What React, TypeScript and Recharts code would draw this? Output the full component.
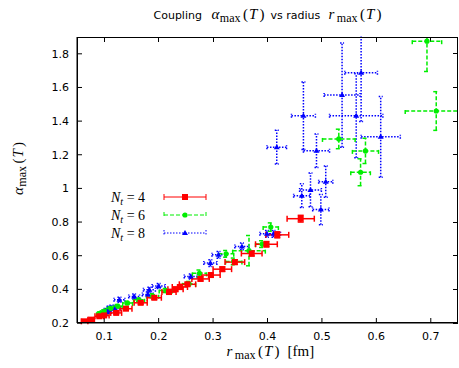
import React from "react";
import { ScatterChart, Scatter, XAxis, YAxis, ErrorBar, ReferenceLine } from "recharts";

// axis ticks
const xTicks = [0.1, 0.2, 0.3, 0.4, 0.5, 0.6, 0.7];
const yTicks = [0.2, 0.4, 0.6, 0.8, 1, 1.2, 1.4, 1.6, 1.8];
const xDomain = [0.05, 0.75];
const yDomain = [0.2, 1.9];

// N_t = 4
const nt4X = [0.064, 0.076, 0.091, 0.1, 0.122, 0.14, 0.167, 0.192, 0.219, 0.231, 0.239, 0.253, 0.277, 0.296, 0.317, 0.34, 0.371, 0.398, 0.418, 0.461];
const nt4Y = [0.21, 0.22, 0.24, 0.245, 0.26, 0.285, 0.32, 0.35, 0.384, 0.4, 0.414, 0.43, 0.462, 0.485, 0.52, 0.562, 0.613, 0.668, 0.724, 0.82];
const nt4Ex = [0.006, 0.006, 0.008, 0.009, 0.01, 0.011, 0.012, 0.013, 0.013, 0.014, 0.014, 0.015, 0.016, 0.017, 0.017, 0.018, 0.019, 0.02, 0.021, 0.025];
const nt4Ey = [0.005, 0.005, 0.006, 0.006, 0.007, 0.008, 0.008, 0.009, 0.01, 0.01, 0.01, 0.011, 0.012, 0.012, 0.013, 0.014, 0.015, 0.016, 0.018, 0.02];

// N_t = 6
const nt6X = [0.092, 0.1, 0.112, 0.125, 0.143, 0.164, 0.189, 0.213, 0.256, 0.275, 0.324, 0.338, 0.366, 0.39, 0.406, 0.531, 0.571, 0.58, 0.693, 0.71];
const nt6Y = [0.258, 0.27, 0.287, 0.3, 0.319, 0.338, 0.362, 0.393, 0.433, 0.495, 0.611, 0.566, 0.63, 0.669, 0.77, 1.294, 1.096, 1.223, 1.875, 1.46];
const nt6Ex = [0.006, 0.007, 0.008, 0.008, 0.009, 0.01, 0.011, 0.012, 0.012, 0.013, 0.014, 0.015, 0.03, 0.012, 0.014, 0.03, 0.018, 0.024, 0.027, 0.057];
const nt6Ey = [0.008, 0.008, 0.009, 0.01, 0.01, 0.01, 0.012, 0.012, 0.014, 0.02, 0.02, 0.02, 0.09, 0.02, 0.025, 0.058, 0.08, 0.075, 0.18, 0.115];

// N_t = 8
const nt8X = [0.105, 0.109, 0.113, 0.12, 0.128, 0.155, 0.18, 0.183, 0.2, 0.259, 0.295, 0.31, 0.353, 0.399, 0.411, 0.417, 0.463, 0.466, 0.479, 0.49, 0.498, 0.507, 0.537, 0.563, 0.572, 0.608];
const nt8Y = [0.265, 0.279, 0.29, 0.285, 0.338, 0.358, 0.37, 0.398, 0.42, 0.477, 0.556, 0.605, 0.655, 0.73, 0.73, 1.245, 0.957, 1.432, 0.991, 1.224, 0.874, 1.04, 1.555, 1.432, 1.687, 1.307];
const nt8Ex = [0.008, 0.009, 0.008, 0.01, 0.01, 0.01, 0.01, 0.011, 0.012, 0.012, 0.012, 0.012, 0.013, 0.013, 0.013, 0.018, 0.015, 0.022, 0.02, 0.024, 0.015, 0.013, 0.033, 0.049, 0.03, 0.036];
const nt8Ey = [0.02, 0.02, 0.015, 0.02, 0.015, 0.015, 0.015, 0.015, 0.015, 0.015, 0.02, 0.02, 0.02, 0.02, 0.02, 0.1, 0.07, 0.2, 0.1, 0.1, 0.09, 0.093, 0.31, 0.25, 0.29, 0.24];

const legendLabels = ["4", "6", "8"];

const build = (xs: number[], ys: number[], ex: number[], ey: number[]) =>
  xs.map((x, i) => ({ x, y: ys[i], ex: ex[i], ey: ey[i] }));

const nt4 = build(nt4X, nt4Y, nt4Ex, nt4Ey);
const nt6 = build(nt6X, nt6Y, nt6Ex, nt6Ey);
const nt8 = build(nt8X, nt8Y, nt8Ex, nt8Ey);

const RED = "#ff0000";
const GREEN = "#00ee00";
const BLUE = "#0000ff";
const SANS = "DejaVu Sans";
const SERIF = "Liberation Serif";

// plot box (matches margin + axis sizes below)
const PLOT = { left: 77, top: 37, right: 458, bottom: 323 };

// mirrored tick length (about 5px) in data units
const tickDx = 0.0092;
const tickDy = 0.03;

const Square = (p: any) => <rect x={p.cx - 3} y={p.cy - 3} width={6} height={6} fill={RED} />;
const Dot = (p: any) => <circle cx={p.cx} cy={p.cy} r={2.6} fill={GREEN} />;
const Tri = (p: any) => (
  <polygon points={`${p.cx},${p.cy - 3} ${p.cx - 3},${p.cy + 2} ${p.cx + 3},${p.cy + 2}`} fill={BLUE} />
);

const legendStyles = [
  { color: RED, dash: undefined, mark: "sq" },
  { color: GREEN, dash: "4 2", mark: "dot" },
  { color: BLUE, dash: "1.5 1.5", mark: "tri" },
];

const LegendBox = () => (
  <g>
    {legendLabels.map((n, i) => {
      const y = 197 + i * 18;
      const s = legendStyles[i];
      return (
        <g key={n}>
          <text x={111} y={y + 5} fontFamily={SERIF} fontSize={14}>
            <tspan fontStyle="italic">N</tspan>
            <tspan fontStyle="italic" fontSize={10} dy={3}>t</tspan>
            <tspan dy={-3}>{" = " + n}</tspan>
          </text>
          <g stroke={s.color} strokeWidth={1} strokeDasharray={s.dash}>
            <line x1={164} x2={206} y1={y} y2={y} />
            <line x1={164} x2={164} y1={y - 3} y2={y + 3} />
            <line x1={206} x2={206} y1={y - 3} y2={y + 3} />
          </g>
          {s.mark === "sq" && <Square cx={185} cy={y} />}
          {s.mark === "dot" && <Dot cx={185} cy={y} />}
          {s.mark === "tri" && <Tri cx={185} cy={y} />}
        </g>
      );
    })}
  </g>
);

// r_max(T) / alpha_max(T) written piece by piece
const MathLabel = ({ x, y, sym }: { x: number; y: number; sym: string }) => (
  <>
    <tspan x={x} y={y} fontFamily={SERIF} fontStyle="italic" fontSize={15}>{sym}</tspan>
    <tspan x={x + 8.3} y={y + 3} fontFamily={SERIF} fontSize={12}>max</tspan>
    <tspan x={x + 31.5} y={y} fontFamily={SERIF} fontSize={15}>(</tspan>
    <tspan x={x + 37.5} y={y} fontFamily={SERIF} fontStyle="italic" fontSize={15}>T</tspan>
    <tspan x={x + 48} y={y} fontFamily={SERIF} fontSize={15}>)</tspan>
  </>
);

const tickStyle = { fill: "#000", fontSize: 11, fontFamily: SANS };

export default function App() {
  return (
    <div style={{ position: "absolute", left: 0, top: 0, width: 459, height: 368, background: "#fff" }}>
      <ScatterChart width={459} height={368} margin={{ top: 37, right: 1, bottom: 0, left: 0 }}>
        <XAxis
          type="number"
          dataKey="x"
          domain={xDomain}
          ticks={xTicks}
          allowDataOverflow
          height={45}
          stroke="#000"
          tickSize={-5}
          tickMargin={14}
          tick={tickStyle}
        />
        <YAxis
          type="number"
          dataKey="y"
          domain={yDomain}
          ticks={yTicks}
          allowDataOverflow
          width={77}
          stroke="#000"
          tickSize={-5}
          tickMargin={13}
          tick={tickStyle}
        />
        {/* mirrored inward ticks on the top and right edges */}
        {xTicks.map((t) => (
          <ReferenceLine
            key={"tx" + t}
            stroke="#000"
            strokeWidth={1}
            shapeRendering="crispEdges"
            ifOverflow="visible"
            segment={[{ x: t, y: yDomain[1] }, { x: t, y: yDomain[1] - tickDy }]}
          />
        ))}
        {yTicks.map((t) => (
          <ReferenceLine
            key={"ty" + t}
            stroke="#000"
            strokeWidth={1}
            shapeRendering="crispEdges"
            ifOverflow="visible"
            segment={[{ x: xDomain[1], y: t }, { x: xDomain[1] - tickDx, y: t }]}
          />
        ))}
        <Scatter data={nt8} shape={Tri} isAnimationActive={false}>
          <ErrorBar dataKey="ex" direction="x" stroke={BLUE} strokeDasharray="1.5 1.5" width={2} />
          <ErrorBar dataKey="ey" direction="y" stroke={BLUE} strokeDasharray="1.5 1.5" width={2} />
        </Scatter>
        <Scatter data={nt6} shape={Dot} isAnimationActive={false}>
          <ErrorBar dataKey="ex" direction="x" stroke={GREEN} strokeDasharray="4 2" width={3} />
          <ErrorBar dataKey="ey" direction="y" stroke={GREEN} strokeDasharray="4 2" width={3} />
        </Scatter>
        <Scatter data={nt4} shape={Square} isAnimationActive={false}>
          <ErrorBar dataKey="ex" direction="x" stroke={RED} width={3} />
          <ErrorBar dataKey="ey" direction="y" stroke={RED} width={3} />
        </Scatter>
      </ScatterChart>
      <svg width={459} height={368} style={{ position: "absolute", left: 0, top: 0, pointerEvents: "none" }}>
        {/* hide error bars running past the top of the frame, as gnuplot clips them */}
        <rect x={0} y={0} width={459} height={PLOT.top - 0.5} fill="#fff" />
        <rect
          x={PLOT.left + 0.5}
          y={PLOT.top + 0.5}
          width={PLOT.right - PLOT.left - 1}
          height={PLOT.bottom - PLOT.top - 1}
          fill="none"
          stroke="#000"
          strokeWidth={1}
          shapeRendering="crispEdges"
        />
        <LegendBox />
        <text fontFamily={SANS} fontSize={11}>
          <tspan x={153.5} y={18.5}>Coupling</tspan>
          <MathLabel x={211.5} y={18.5} sym="α" />
          <tspan x={270.5} y={18.5} fontFamily={SANS} fontSize={11}>vs radius</tspan>
          <MathLabel x={328.5} y={18.5} sym="r" />
        </text>
        <text>
          <MathLabel x={226.5} y={356} sym="r" />
          <tspan x={287.5} y={356} fontFamily={SERIF} fontSize={15}>[fm]</tspan>
        </text>
        <g transform="translate(23,195) rotate(-90)">
          <text>
            <MathLabel x={0} y={0} sym="α" />
          </text>
        </g>
      </svg>
    </div>
  );
}
